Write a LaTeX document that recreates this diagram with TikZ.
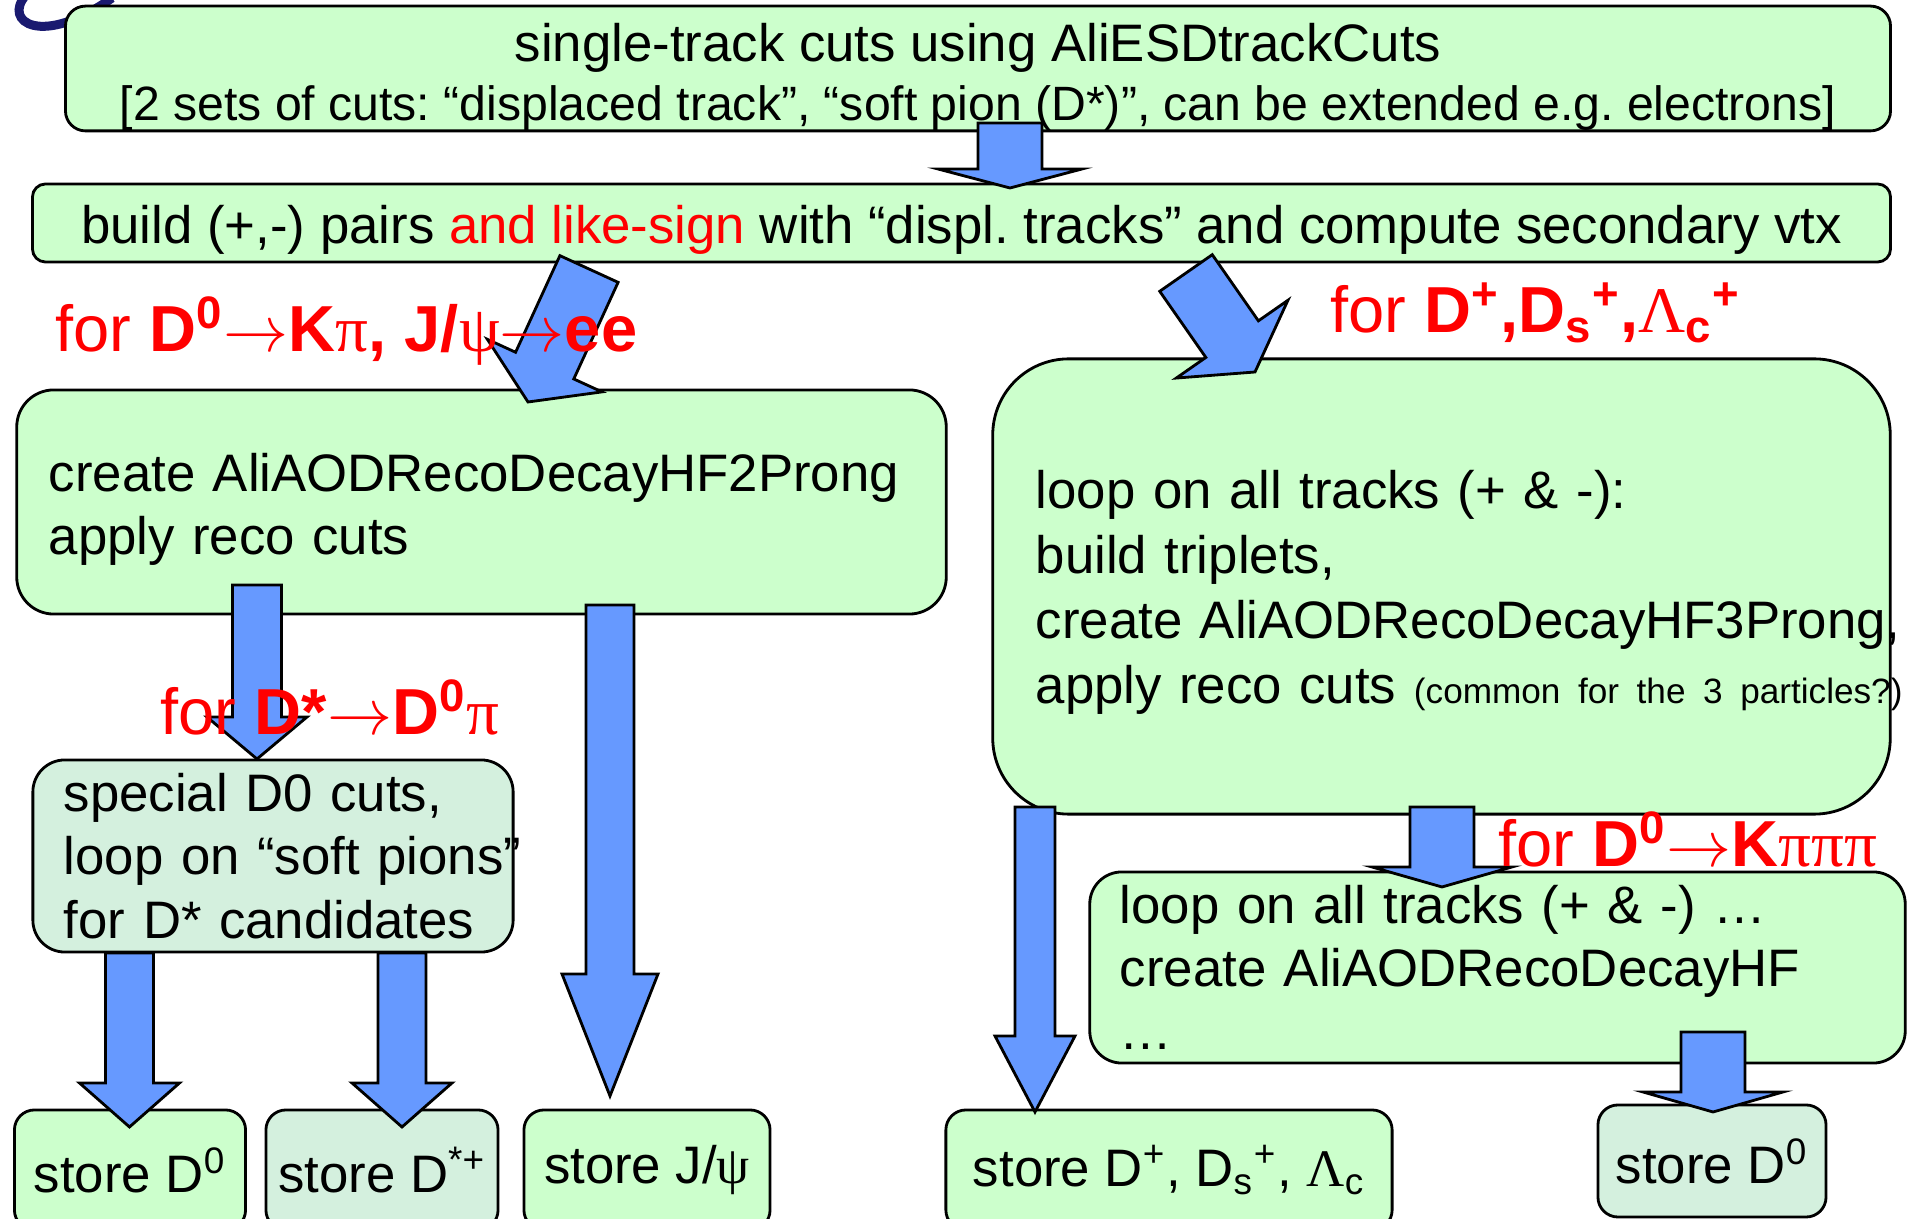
\RequirePackage{fix-cm}
\documentclass[tikz,border=0pt]{standalone}
\usepackage{fontspec}
\setmainfont{Liberation Sans}
\newfontfamily\symb{Liberation Serif}
\usetikzlibrary{calc,positioning}

\definecolor{boxgreen}{HTML}{CCFFCC}
\definecolor{palegreen}{HTML}{D4F0DE}
\definecolor{arrowblue}{HTML}{6699FF}
\definecolor{logoblue}{HTML}{1A1A70}

\newcommand{\grk}[1]{{\symb\mdseries #1}}
\newcommand{\arr}{$\rightarrow$}
\newcommand{\fatarrow}[5]{%
  \coordinate (hb) at ($(#2)!#5!(#1)$);
  \filldraw[fat] ($(#1)!#3!-90:(#2)$) -- ($(hb)!#3!90:(#1)$) -- ($(hb)!#4!90:(#1)$) -- (#2)
    -- ($(hb)!#4!-90:(#1)$) -- ($(hb)!#3!-90:(#1)$) -- ($(#1)!#3!90:(#2)$) -- cycle;
}

\begin{document}
\frenchspacing
\begin{tikzpicture}[x=0.01cm, y=-0.01cm]
    \tikzstyle{box} = [draw=black, line width=0.8pt, fill=boxgreen, inner sep=0pt, font=\fontsize{15}{18}\selectfont]
    \tikzstyle{pale} = [fill=palegreen]
    \tikzstyle{store} = [box, rounded corners=0.2cm, minimum height=1.2cm]
    \tikzstyle{fat} = [draw=black, line width=0.8pt, fill=arrowblue, line join=miter]
    \tikzstyle{redlabel} = [text=red, inner sep=0pt, anchor=base west, font=\fontsize{18.5}{22}\selectfont]

    \useasboundingbox (0,0) rectangle (1923,1219);
    \clip (0,0) rectangle (1923,1219);

    \draw[logoblue, line width=0.09cm] (26,-5) .. controls (2,22) and (42,48) .. (112,-2);

    \node[box, rounded corners=0.2cm, minimum width=18.24cm, minimum height=1.23cm, align=center, font=\fontsize{15}{17}\selectfont] (cuts) at (978,68.5)
        {\rule{0pt}{0.55cm}single-track cuts using AliESDtrackCuts\\{\fontsize{13.7}{17}\selectfont{[}2 sets of cuts: “displaced track”, “soft pion (D*)”, can be extended e.g. electrons]}};
    \node[box, rounded corners=0.13cm, minimum width=18.57cm, minimum height=0.78cm, text height=0.525cm, text depth=0.11cm] (pairs) at (961.5,223)
        {build (+,-) pairs \textcolor{red}{and like-sign} with “displ. tracks” and compute secondary vtx};
    \node[box, rounded corners=0.37cm, minimum width=9.29cm, minimum height=2.24cm, text width=8.65cm, inner xsep=0.32cm, align=left] (twoprong) at (481.5,502)
        {\rule{0pt}{0.53cm}create AliAODRecoDecayHF2Prong\\apply reco cuts};
    \node[box, rounded corners=0.76cm, minimum width=8.97cm, minimum height=4.55cm, text width=8.11cm, inner xsep=0.43cm, align=left, font=\fontsize{15}{18.5}\selectfont] (threeprong) at (1441.5,586.5)
        {\rule{0pt}{0.5cm}loop on all tracks (+ \& -):\\build triplets,\\\mbox{create AliAODRecoDecayHF3Prong,}\\\mbox{apply reco cuts {\fontsize{10}{12}\selectfont(common for the 3 particles?)}}};
    \node[box, pale, rounded corners=0.32cm, minimum width=4.8cm, minimum height=1.92cm, text width=4.18cm, inner xsep=0.31cm, align=left] (softpion) at (273,856)
        {special D0 cuts,\\\mbox{loop on “soft pions”}\\for D* candidates};
    \node[box, rounded corners=0.32cm, minimum width=8.15cm, minimum height=1.91cm, text width=7.55cm, inner xsep=0.3cm, align=left] (fourprong) at (1497.5,967.5)
        {loop on all tracks (+ \& -) …\\create AliAODRecoDecayHF\\…};

    \node[store, minimum width=2.31cm] (storedzero) at (130,1170) {store D\textsuperscript{0}};
    \node[store, pale, minimum width=2.32cm] (storedstar) at (382,1170) {store D\textsuperscript{*+}};
    \node[store, minimum width=2.46cm] (storejpsi) at (647,1170) {store J/\grk{ψ}};
    \node[store, minimum width=4.46cm] (storedplus) at (1169,1170) {store D\textsuperscript{+}, D\textsubscript{s}\textsuperscript{+}, \grk{Λ}\textsubscript{c}};
    \node[store, pale, minimum width=2.28cm, minimum height=1.12cm] (storedzerob) at (1712,1161) {store D\textsuperscript{0}};

    \coordinate (cuts-out) at (1010,123);
    \coordinate (pairs-in) at (1010,188);
    \coordinate (pairs-outa) at (589,269);
    \coordinate (twoprong-in) at (528,402);
    \coordinate (pairs-outb) at (1186,273);
    \coordinate (threeprong-in) at (1255,372);
    \coordinate (twoprong-outa) at (257,585);
    \coordinate (softpion-in) at (257,759);
    \coordinate (twoprong-outb) at (610,605);
    \coordinate (storejpsi-in) at (610,1096);
    \coordinate (softpion-outa) at (129.5,953);
    \coordinate (storedzero-in) at (129.5,1127);
    \coordinate (softpion-outb) at (402,953);
    \coordinate (storedstar-in) at (402,1127);
    \coordinate (threeprong-outa) at (1035,807);
    \coordinate (storedplus-in) at (1035,1112);
    \coordinate (threeprong-outb) at (1442,807);
    \coordinate (fourprong-in) at (1442,887);
    \coordinate (fourprong-out) at (1713,1032);
    \coordinate (storedzerob-in) at (1713,1112);

    \fatarrow{cuts-out}{pairs-in}{0.32cm}{0.72cm}{0.19cm}
    \fatarrow{pairs-outa}{twoprong-in}{0.32cm}{0.63cm}{0.4cm}
    \fatarrow{pairs-outb}{threeprong-in}{0.32cm}{0.68cm}{0.4cm}
    \fatarrow{twoprong-outa}{softpion-in}{0.245cm}{0.5cm}{0.42cm}
    \fatarrow{twoprong-outb}{storejpsi-in}{0.24cm}{0.48cm}{1.22cm}
    \fatarrow{softpion-outa}{storedzero-in}{0.24cm}{0.5cm}{0.44cm}
    \fatarrow{softpion-outb}{storedstar-in}{0.24cm}{0.5cm}{0.44cm}
    \fatarrow{threeprong-outa}{storedplus-in}{0.2cm}{0.4cm}{0.76cm}
    \fatarrow{threeprong-outb}{fourprong-in}{0.32cm}{0.7cm}{0.2cm}
    \fatarrow{fourprong-out}{storedzerob-in}{0.32cm}{0.7cm}{0.2cm}

    \node[redlabel] (fortwo) at (55,352) {for \textbf{D\textsuperscript{0}\arr K\grk{π}, J/\grk{ψ}\arr ee}};
    \node[redlabel] (forthree) at (1330,333) {for \textbf{D\textsuperscript{+},D\textsubscript{s}\textsuperscript{+},\grk{Λ}\textsubscript{c}\textsuperscript{+}}};
    \node[redlabel] (fordstar) at (160,735) {for \textbf{D*\arr D\textsuperscript{0}\grk{π}}};
    \node[redlabel] (forfour) at (1498,867) {for \textbf{D\textsuperscript{0}\arr K\grk{πππ}}};
\end{tikzpicture}
\end{document}
